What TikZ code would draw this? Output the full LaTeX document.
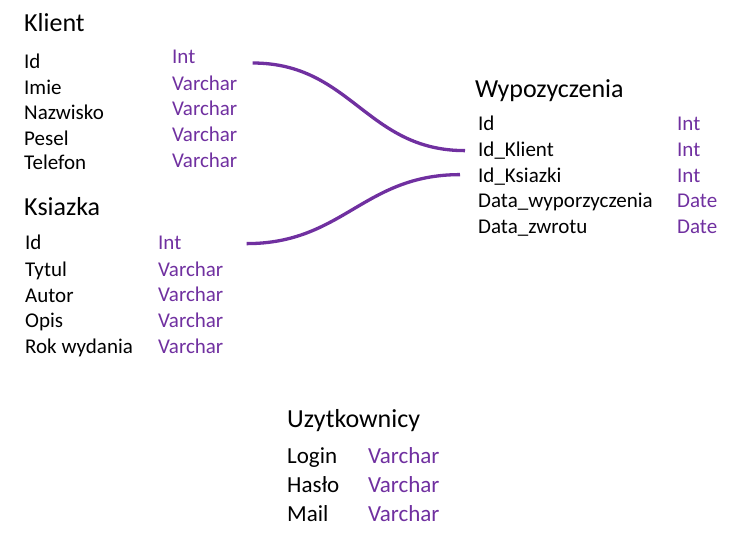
\documentclass[tikz,border=0pt]{standalone}
\usepackage{fontspec}
\setmainfont{Carlito}
\usetikzlibrary{positioning}
\definecolor{typepurple}{RGB}{112,48,160}

\begin{document}
\begin{tikzpicture}[
  x=1pt,
  y=-1pt,
  title/.style={anchor=base west, inner sep=0pt, font=\fontsize{26pt}{31pt}\selectfont},
  field/.style={anchor=base west, inner sep=0pt, font=\fontsize{21pt}{25pt}\selectfont},
  dtype/.style={field, text=typepurple},
  bigfield/.style={field, font=\fontsize{23pt}{27pt}\selectfont},
  bigtype/.style={bigfield, text=typepurple},
  link/.style={draw=typepurple, line width=3.3pt}
]
  \useasboundingbox (0,0) rectangle (737,547);

  % Klient
  \node[title] (klient) at (24,31) {Klient};
  \node[field] (kid) at (24,68) {Id};
  \node[field] (kimie) at (24,94) {Imie};
  \node[field] (knazw) at (24,119) {Nazwisko};
  \node[field] (kpesel) at (24,145) {Pesel};
  \node[field] (ktel) at (24,169) {Telefon};
  \node[dtype] (kidt) at (172,63) {Int};
  \node[dtype] (kimiet) at (172,90) {Varchar};
  \node[dtype] (knazwt) at (172,115) {Varchar};
  \node[dtype] (kpeselt) at (172,141) {Varchar};
  \node[dtype] (ktelt) at (172,167) {Varchar};

  % Ksiazka
  \node[title] (ksiazka) at (24,215) {Ksiazka};
  \node[field] (sid) at (25,249) {Id};
  \node[field] (styt) at (25,276) {Tytul};
  \node[field] (saut) at (25,302) {Autor};
  \node[field] (sopis) at (25,327) {Opis};
  \node[field] (srok) at (25,353) {Rok wydania};
  \node[dtype] (sidt) at (158,249) {Int};
  \node[dtype] (stytt) at (158,276) {Varchar};
  \node[dtype] (sautt) at (158,301) {Varchar};
  \node[dtype] (sopist) at (158,327) {Varchar};
  \node[dtype] (srokt) at (158,353) {Varchar};

  % Wypozyczenia
  \node[title] (wyp) at (475,97) {Wypozyczenia};
  \node[field] (wid) at (478,130) {Id};
  \node[field] (wkl) at (478,156) {Id\_Klient};
  \node[field] (wks) at (478,182) {Id\_Ksiazki};
  \node[field] (wdw) at (478,207) {Data\_wyporzyczenia};
  \node[field] (wdz) at (478,233) {Data\_zwrotu};
  \node[dtype] (widt) at (677,130) {Int};
  \node[dtype] (wklt) at (677,156) {Int};
  \node[dtype] (wkst) at (677,182) {Int};
  \node[dtype] (wdwt) at (677,207) {Date};
  \node[dtype] (wdzt) at (677,233) {Date};

  % Uzytkownicy
  \node[title] (uzyt) at (287,427) {Uzytkownicy};
  \node[bigfield] (ulog) at (287,463) {Login};
  \node[bigfield] (uhas) at (287,492) {Hasło};
  \node[bigfield] (umail) at (287,521) {Mail};
  \node[bigtype] (ulogt) at (368,463) {Varchar};
  \node[bigtype] (uhast) at (368,492) {Varchar};
  \node[bigtype] (umailt) at (368,521) {Varchar};

  \draw[link] ([xshift=57pt]kidt.base east) to[out=0, in=180, looseness=1.1] ([xshift=-13pt, yshift=3pt]wkl.mid west);
  \draw[link] ([xshift=65pt, yshift=3pt]sidt.mid east) to[out=0, in=180, looseness=1.1] ([xshift=-18pt, yshift=5pt]wks.mid west);
\end{tikzpicture}
\end{document}
